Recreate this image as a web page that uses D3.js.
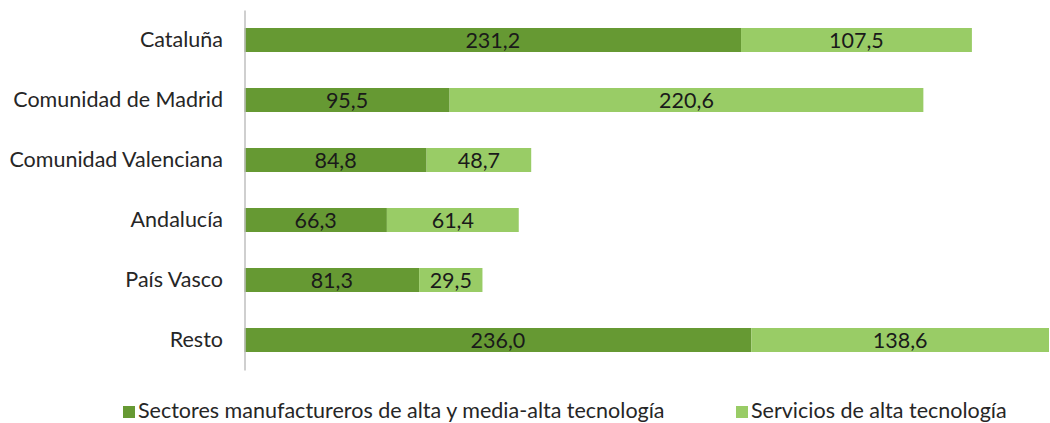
<!DOCTYPE html>
<html>
<head>
<meta charset="utf-8">
<script src="https://cdn.jsdelivr.net/npm/d3@7"></script>
<style>
  body { margin: 0; background: #fff; }
  text { font-family: Lato, "Open Sans", sans-serif; }
</style>
</head>
<body>
<div id="chart"></div>
<script>
// Data
const regions = ["Cataluña", "Comunidad de Madrid", "Comunidad Valenciana", "Andalucía", "País Vasco", "Resto"];
const manufactureros = [231.2, 95.5, 84.8, 66.3, 81.3, 236.0];
const servicios = [107.5, 220.6, 48.7, 61.4, 29.5, 138.6];
const seriesNames = ["Sectores manufactureros de alta y media-alta tecnología", "Servicios de alta tecnología"];
const seriesColors = ["#669933", "#99cc66"];

const width = 1050, height = 423;
const margin = { top: 10, right: 1, bottom: 53, left: 244.5 };
const fontSize = 21.5;

const svg = d3.select("#chart").append("svg")
    .attr("width", width)
    .attr("height", height);

const rows = regions.map((r, i) => ({ region: r, values: [manufactureros[i], servicios[i]] }));

const x = d3.scaleLinear()
    .domain([0, d3.max(rows, d => d3.sum(d.values))])
    .range([margin.left, width - margin.right]);

const y = d3.scaleBand()
    .domain(regions)
    .range([margin.top, height - margin.bottom])
    .paddingInner(0.6)
    .paddingOuter(0.3);

const fmt = v => d3.format(".1f")(v).replace(".", ",");

// bars
rows.forEach(row => {
    let start = 0;
    row.values.forEach((v, j) => {
        svg.append("rect")
            .attr("x", x(start))
            .attr("y", y(row.region))
            .attr("width", x(start + v) - x(start))
            .attr("height", y.bandwidth())
            .attr("fill", seriesColors[j]);
        svg.append("text")
            .attr("x", (x(start) + x(start + v)) / 2)
            .attr("y", y(row.region) + y.bandwidth() / 2)
            .attr("dy", "0.36em")
            .attr("text-anchor", "middle")
            .attr("font-size", fontSize)
            .attr("fill", "#1a1a1a")
            .text(fmt(v));
        start += v;
    });
});

// category axis
const yAxis = svg.append("g")
    .attr("transform", `translate(${margin.left},0)`)
    .call(d3.axisLeft(y).tickSize(0).tickPadding(21.5).tickSizeOuter(0));
yAxis.select(".domain").attr("stroke", "#bfbfbf").attr("stroke-width", 1.5);
yAxis.selectAll("text")
    .attr("font-size", fontSize)
    .attr("fill", "#262626");

// legend
const legendX = [123, 736];
seriesNames.forEach((name, i) => {
    const g = svg.append("g").attr("transform", `translate(${legendX[i]},406)`);
    g.append("rect").attr("width", 12).attr("height", 12).attr("fill", seriesColors[i]);
    g.append("text")
        .attr("x", 15)
        .attr("y", 12)
        .attr("font-size", fontSize)
        .attr("fill", "#262626")
        .text(name);
});
</script>
</body>
</html>
